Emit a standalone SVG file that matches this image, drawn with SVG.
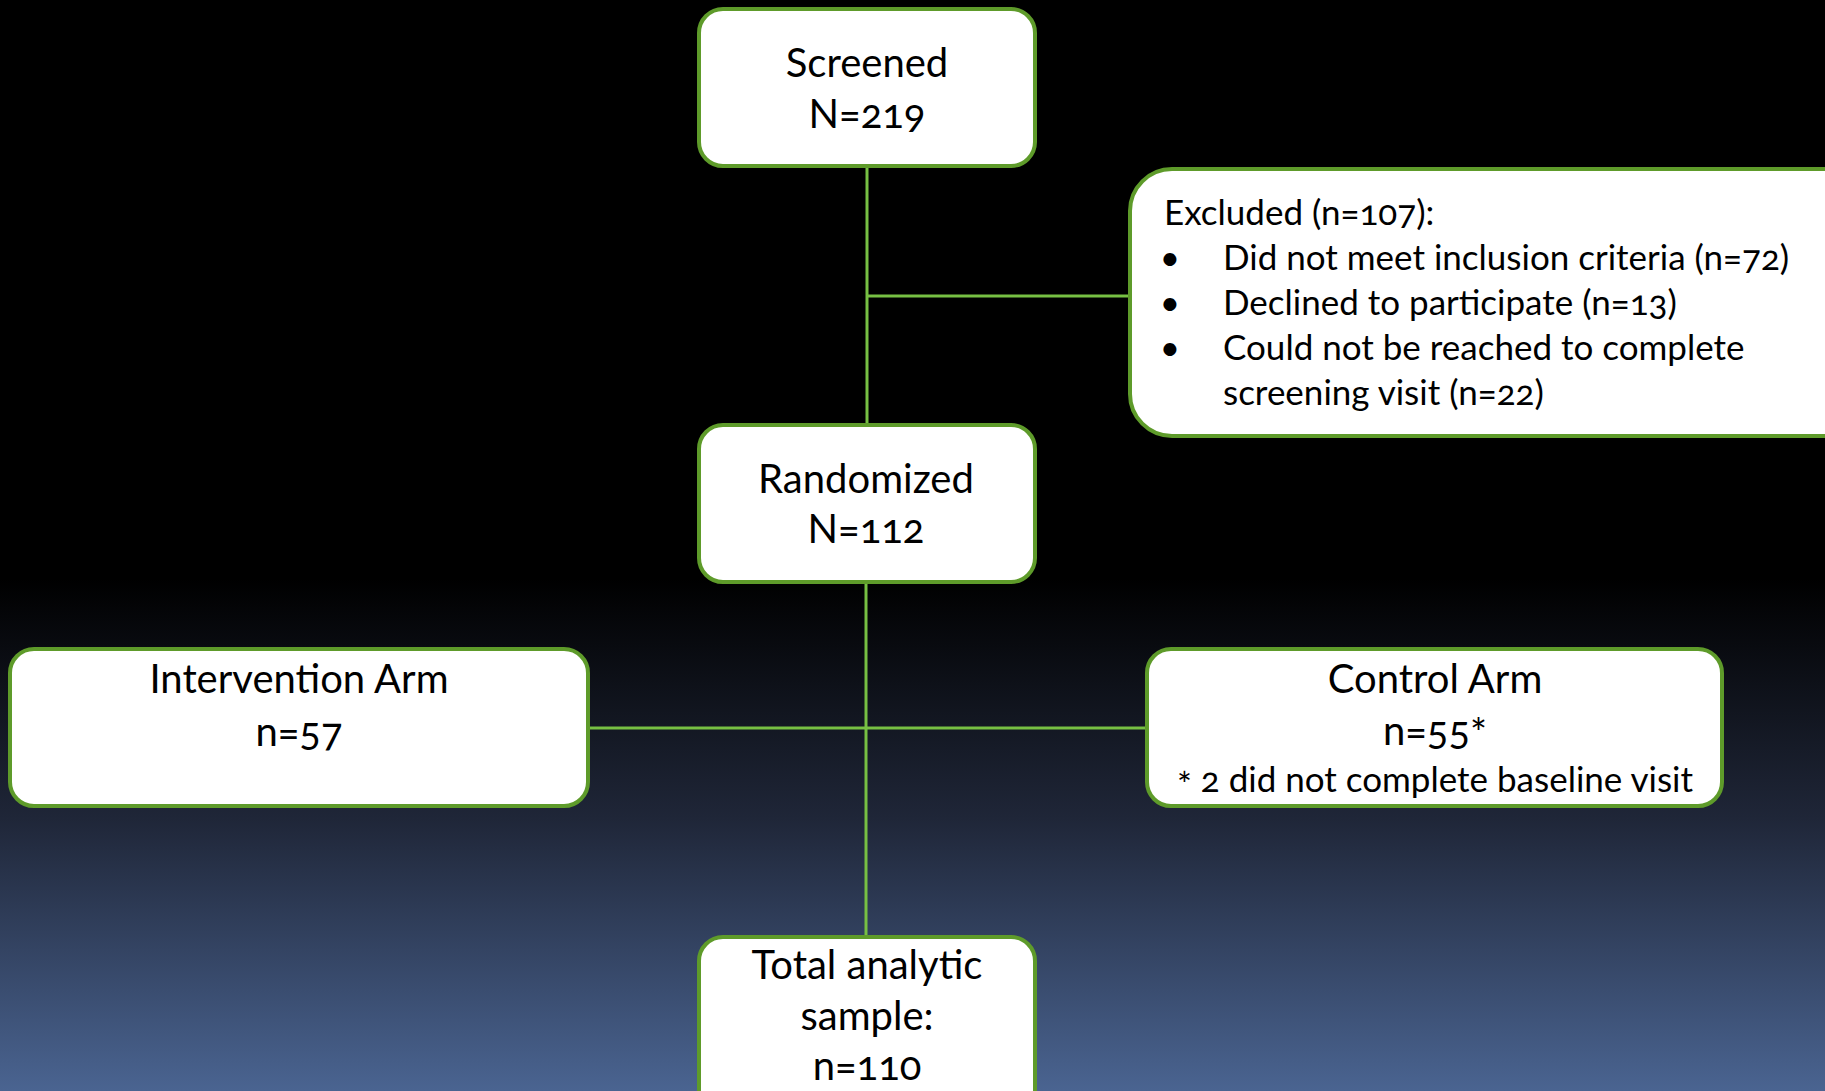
<svg xmlns="http://www.w3.org/2000/svg" width="1825" height="1091" viewBox="0 0 1825 1091">
<defs>
<linearGradient id="bg" x1="0" y1="0" x2="0" y2="1091" gradientUnits="userSpaceOnUse">
<stop offset="0" stop-color="#000000"/>
<stop offset="0.53" stop-color="#000000"/>
<stop offset="0.75" stop-color="#1f2638"/>
<stop offset="1" stop-color="#4a6491"/>
</linearGradient>
<style>
.box{fill:#ffffff;stroke:#5e9b2a;stroke-width:4}
.conn{stroke:#77c043;stroke-width:3;fill:none}
.t{font-family:Lato,"Liberation Sans",sans-serif;fill:#000;font-feature-settings:"onum";font-variant-numeric:oldstyle-nums}
.big{font-size:40px;text-anchor:middle}
.small{font-size:35px}
.mid{text-anchor:middle}
</style>
</defs>
<rect x="0" y="0" width="1825" height="1091" fill="url(#bg)"/>
<g id="connectors">
<line class="conn" x1="867" y1="166" x2="867" y2="425"/>
<line class="conn" x1="867" y1="296" x2="1130" y2="296"/>
<line class="conn" x1="866" y1="582" x2="866" y2="937"/>
<line class="conn" x1="588" y1="728" x2="1147" y2="728"/>
</g>
<g id="screened">
<rect class="box" x="699" y="9" width="336" height="157" rx="24"/>
<text class="t big" x="867" y="77">Screened</text>
<text class="t big" x="867" y="128">N=219</text>
</g>
<g id="excluded">
<rect class="box" x="1130" y="169" width="740" height="267" rx="42"/>
<text class="t small" x="1164" y="225">Excluded (n=107):</text>
<text class="t small mid" x="1170" y="270">•</text>
<text class="t small" x="1223" y="270">Did not meet inclusion criteria (n=72)</text>
<text class="t small mid" x="1170" y="315">•</text>
<text class="t small" x="1223" y="315">Declined to participate (n=13)</text>
<text class="t small mid" x="1170" y="360">•</text>
<text class="t small" x="1223" y="360">Could not be reached to complete</text>
<text class="t small" x="1223" y="405">screening visit (n=22)</text>
</g>
<g id="randomized">
<rect class="box" x="699" y="425" width="336" height="157" rx="24"/>
<text class="t big" x="866" y="493">Randomized</text>
<text class="t big" x="866" y="543">N=112</text>
</g>
<g id="intervention">
<rect class="box" x="10" y="649" width="578" height="157" rx="24"/>
<text class="t big" x="299" y="693">Intervention Arm</text>
<text class="t big" x="299" y="746">n=57</text>
</g>
<g id="control">
<rect class="box" x="1147" y="649" width="575" height="157" rx="24"/>
<text class="t big" x="1435" y="693">Control Arm</text>
<text class="t big" x="1435" y="745">n=55<tspan dy="3">*</tspan></text>
<text class="t small mid" x="1435" y="792"><tspan dy="5">*</tspan><tspan dy="-5"> 2 did not complete baseline visit</tspan></text>
</g>
<g id="total">
<rect class="box" x="699" y="937" width="336" height="190" rx="24"/>
<text class="t big" x="867" y="979">Total analytic</text>
<text class="t big" x="867" y="1030">sample:</text>
<text class="t big" x="867" y="1080">n=110</text>
</g>
</svg>
